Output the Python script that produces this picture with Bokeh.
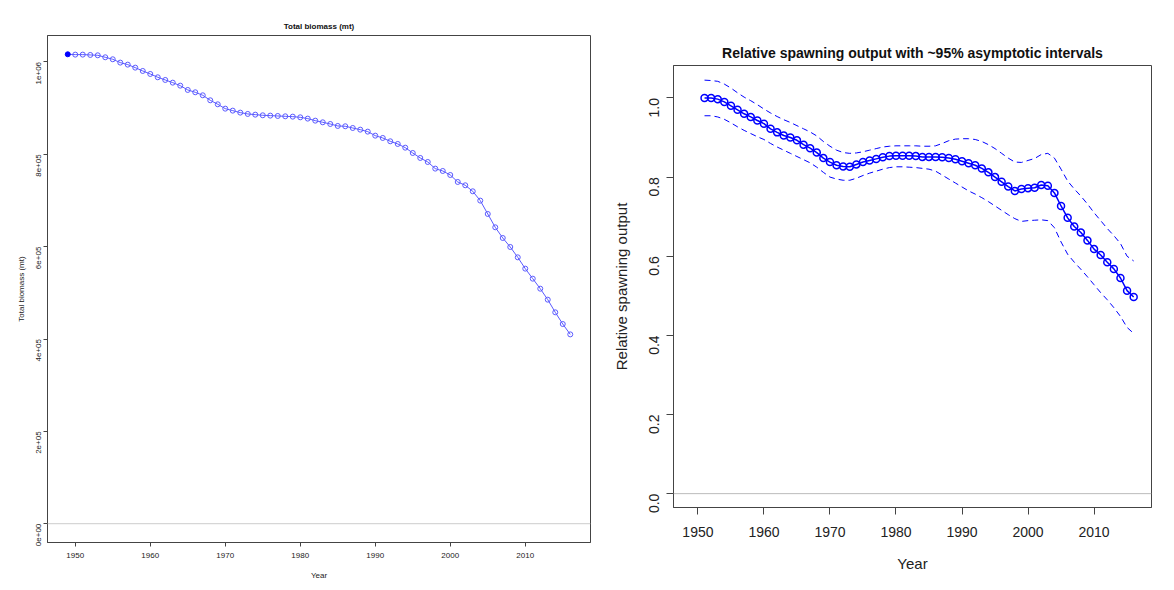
import math
from bokeh.plotting import figure
from bokeh.layouts import row, column
from bokeh.models import Range1d, Span, FixedTicker
from bokeh.embed import file_html
from bokeh.resources import INLINE

# Total biomass (left panel)
bio_years = list(range(1949, 2017))
biomass = [1016600, 1015900, 1015900, 1015200, 1014400, 1010100, 1005800, 998600, 994200, 987700,
           980500, 974000, 966800, 961000, 955200, 948700, 939400, 934300, 927800, 917000,
           908300, 898900, 894600, 890300, 887400, 885900, 884500, 883800, 883000, 882300,
           881600, 880100, 877300, 872900, 869300, 865700, 861400, 860700, 857000, 853400,
           849100, 840400, 835400, 828200, 822400, 814400, 802900, 792100, 783400, 769000,
           763900, 755200, 740100, 732900, 719900, 699700, 670800, 641900, 618800, 599300,
           576900, 552400, 530700, 509000, 485200, 457800, 432500, 410000]

# Relative spawning output (right panel)
rel_years = list(range(1951, 2017))
rel = [1.0, 1.0, 0.997, 0.99, 0.98, 0.97, 0.96, 0.952, 0.943, 0.935,
       0.922, 0.913, 0.905, 0.9, 0.893, 0.882, 0.873, 0.862, 0.848, 0.838,
       0.83, 0.827, 0.826, 0.832, 0.838, 0.842, 0.846, 0.85, 0.853, 0.854,
       0.854, 0.854, 0.853, 0.851, 0.851, 0.851, 0.85, 0.848, 0.845, 0.84,
       0.835, 0.83, 0.822, 0.812, 0.8, 0.788, 0.776, 0.765, 0.77, 0.772,
       0.773, 0.78, 0.778, 0.76, 0.727, 0.697, 0.675, 0.66, 0.64, 0.618,
       0.603, 0.585, 0.568, 0.545, 0.513, 0.497]
rel_upper = [1.045, 1.044, 1.042, 1.035, 1.025, 1.013, 1.002, 0.993, 0.983, 0.972,
             0.962, 0.953, 0.945, 0.938, 0.93, 0.922, 0.914, 0.904, 0.89, 0.878,
             0.868, 0.862, 0.86, 0.861, 0.864, 0.868, 0.872, 0.876, 0.878, 0.879,
             0.879, 0.879, 0.879, 0.878, 0.878, 0.879, 0.885, 0.892, 0.896, 0.897,
             0.897, 0.895, 0.89, 0.882, 0.872, 0.86, 0.848, 0.838, 0.837, 0.842,
             0.847, 0.857, 0.86, 0.848, 0.82, 0.79, 0.77, 0.752, 0.732, 0.71,
             0.69, 0.67, 0.652, 0.632, 0.6, 0.588]
rel_lower = [0.955, 0.955, 0.952, 0.946, 0.937, 0.927, 0.918, 0.91, 0.902, 0.895,
             0.885, 0.876, 0.868, 0.86, 0.852, 0.844, 0.836, 0.825, 0.812, 0.8,
             0.795, 0.792, 0.792, 0.797, 0.804, 0.81, 0.815, 0.82, 0.824, 0.826,
             0.826, 0.825, 0.824, 0.822, 0.82, 0.815, 0.805, 0.795, 0.785, 0.775,
             0.765, 0.757, 0.748, 0.738, 0.727, 0.716, 0.705, 0.695, 0.688, 0.69,
             0.691, 0.692, 0.69, 0.672, 0.636, 0.605, 0.585, 0.567, 0.548, 0.528,
             0.508, 0.49, 0.47, 0.448, 0.42, 0.405]

year_ticks = [1950, 1960, 1970, 1980, 1990, 2000, 2010]
bio_ticks = [0, 200000, 400000, 600000, 800000, 1000000]
bio_tick_labels = ["0e+00", "2e+05", "4e+05", "6e+05", "8e+05", "1e+06"]
rel_ticks = [0.0, 0.2, 0.4, 0.6, 0.8, 1.0]
rel_tick_labels = ["0.0", "0.2", "0.4", "0.6", "0.8", "1.0"]

FONT = "Liberation Sans"


def style_axes(p, fs, label_fs):
    for ax in (p.xaxis[0], p.yaxis[0]):
        ax.axis_line_color = "#444444"
        ax.major_tick_line_color = "#444444"
        ax.minor_tick_line_color = None
        ax.major_tick_in = 0
        ax.major_label_text_font = FONT
        ax.major_label_text_font_size = fs
        ax.major_label_text_color = "#222222"
        ax.axis_label_text_font = FONT
        ax.axis_label_text_font_size = label_fs
        ax.axis_label_text_font_style = "normal"
        ax.axis_label_text_color = "#222222"
    p.yaxis.major_label_orientation = math.pi / 2
    p.xgrid.grid_line_color = None
    p.ygrid.grid_line_color = None
    p.outline_line_color = "#444444"
    p.title.text_font = FONT
    p.title.align = "center"
    p.title.text_color = "#111111"


# left panel
p1 = figure(width=592, height=582, output_backend="svg", toolbar_location=None,
            title="Total biomass (mt)", min_border_left=47, min_border_right=2,
            min_border_top=35, min_border_bottom=0)
p1.x_range = Range1d(1946.3, 2018.7)
p1.y_range = Range1d(-40700, 1057300)
p1.title.text_font_size = "8px"
p1.xaxis.axis_label = "Year"
p1.yaxis.axis_label = "Total biomass (mt)"
style_axes(p1, "8px", "8px")
p1.xaxis.ticker = FixedTicker(ticks=year_ticks)
p1.yaxis.ticker = FixedTicker(ticks=bio_ticks)
p1.yaxis.major_label_overrides = dict(zip(bio_ticks, bio_tick_labels))
p1.xaxis.major_tick_out = 4
p1.yaxis.major_tick_out = 4
p1.xaxis.major_label_standoff = 6
p1.xaxis.axis_label_standoff = 10
p1.add_layout(Span(location=0, dimension="width", line_color="#cccccc", line_width=1))
p1.line(bio_years, biomass, line_color="#5a5aff", line_width=1)
p1.scatter(bio_years[1:], biomass[1:], size=5, marker="circle", fill_color=None,
           line_color="#5a5aff", line_width=1)
p1.scatter(bio_years[:1], biomass[:1], size=5, marker="circle", fill_color="blue",
           line_color="blue")

# right panel
p2 = figure(width=567, height=574, output_backend="svg", toolbar_location=None,
            title="Relative spawning output with ~95% asymptotic intervals",
            min_border_left=81, min_border_right=8,
            min_border_top=65, min_border_bottom=53)
p2.x_range = Range1d(1946.3, 2018.7)
p2.y_range = Range1d(-0.035, 1.082)
p2.title.text_font_size = "14px"
p2.title.text_font_style = "bold"
p2.xaxis.axis_label = "Year"
p2.yaxis.axis_label = "Relative spawning output"
style_axes(p2, "14px", "15px")
p2.xaxis.ticker = FixedTicker(ticks=year_ticks)
p2.yaxis.ticker = FixedTicker(ticks=rel_ticks)
p2.yaxis.major_label_overrides = dict(zip(rel_ticks, rel_tick_labels))
p2.xaxis.major_tick_out = 7
p2.yaxis.major_tick_out = 7
p2.xaxis.major_label_standoff = 12
p2.xaxis.axis_label_standoff = 15
p2.yaxis.major_label_standoff = 12
p2.yaxis.axis_label_standoff = 12
p2.add_layout(Span(location=0, dimension="width", line_color="#bbbbbb", line_width=1))
p2.line(rel_years, rel_upper, line_color="blue", line_dash="6 4", line_width=1)
p2.line(rel_years, rel_lower, line_color="blue", line_dash="6 4", line_width=1)
p2.line(rel_years, rel, line_color="blue", line_width=1.5)
p2.scatter(rel_years, rel, size=7, marker="circle", fill_color=None,
           line_color="blue", line_width=1.5)

p = row(column(p1), column(p2))
open("out.html", "w").write(file_html(p, INLINE))
